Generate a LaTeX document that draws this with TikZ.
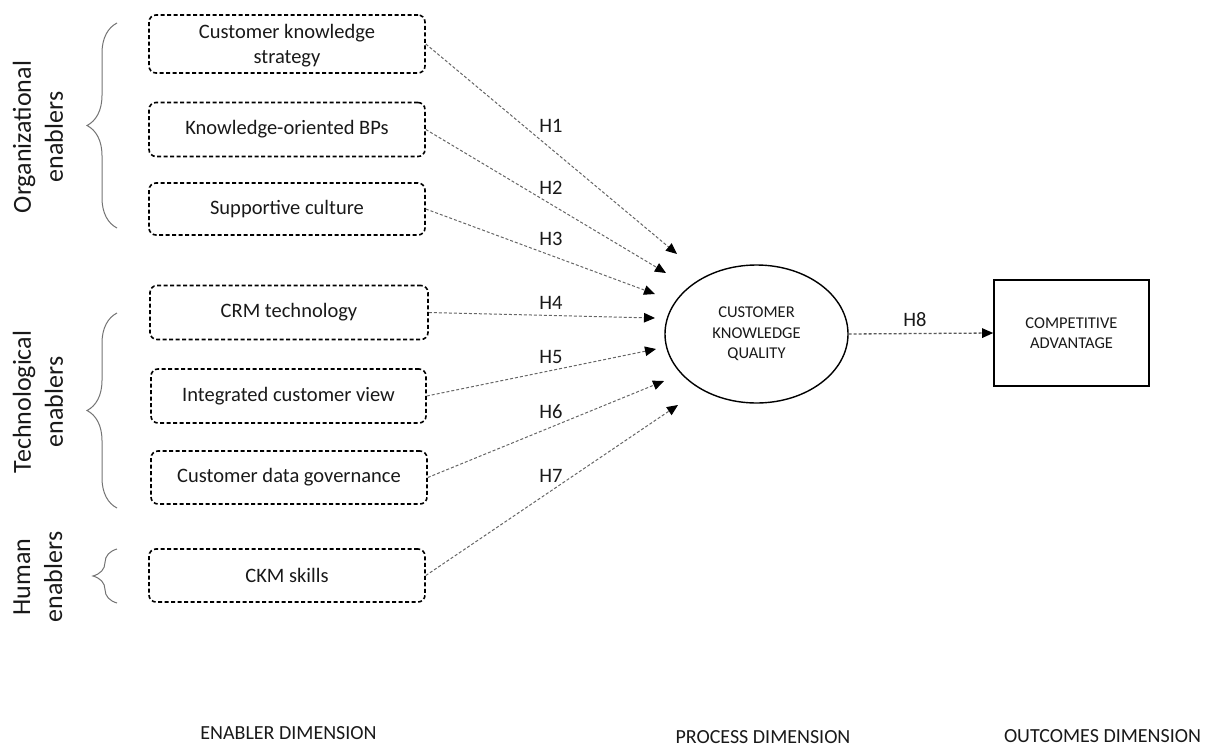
\documentclass[tikz,border=0pt]{standalone}
\usepackage{fontspec}
\setmainfont{Carlito}
\usetikzlibrary{arrows.meta,shapes.geometric,decorations.pathreplacing}
\begin{document}
\begin{tikzpicture}[x=1pt,y=-1pt,
  enabler/.style={draw=black, line width=1.6pt, dash pattern=on 4pt off 2.5pt,
    rounded corners=7pt, minimum width=276pt, minimum height=54pt, align=center,
    inner sep=0pt, font=\fontsize{20.5}{25}\selectfont, text=black!90},
  hyp/.style={draw=black!60, line width=1pt, dash pattern=on 3pt off 2pt,
    -{Triangle[length=11pt,width=9.5pt,color=black]}},
  hlabel/.style={inner sep=0pt, font=\fontsize{20.5}{24}\selectfont, text=black!90},
  group/.style={draw=black!55, line width=1pt, decorate,
    decoration={brace, amplitude=30pt}},
  grouplabel/.style={rotate=90, align=center, inner sep=0pt,
    font=\fontsize{26}{32}\selectfont, text=black!90},
  dimlabel/.style={inner sep=0pt, font=\fontsize{20}{24}\selectfont, text=black!90},
]
\useasboundingbox (0,0) rectangle (1209,747);

% enabler boxes
\node[enabler, minimum height=58pt, text depth=0pt] (b1) at (287,44) {Customer knowledge\\strategy};
\node[enabler] (b2) at (287,129.5) {Knowledge-oriented BPs};
\node[enabler, minimum height=52pt] (b3) at (287,209) {Supportive culture};
\node[enabler, minimum width=278pt] (b4) at (289,312.5) {CRM technology};
\node[enabler, minimum width=275pt] (b5) at (288.5,396) {Integrated customer view};
\node[enabler, minimum height=53pt] (b6) at (289,477.5) {Customer data governance};
\node[enabler, minimum height=53pt] (b7) at (287,575.5) {CKM skills};

% group braces and their labels
\draw[group] (117,228) -- (117,23);
\draw[group] (117,508) -- (117,313);
\draw[group, decoration={brace, amplitude=24pt}] (117,603) -- (117,549);
\node[grouplabel] (g1) at (38,137) {Organizational\\enablers};
\node[grouplabel] (g2) at (38,402) {Technological\\enablers};
\node[grouplabel] (g3) at (38,577) {Human\\enablers};

% process and outcome constructs
\node[ellipse, draw=black, line width=1.4pt, minimum width=183pt, minimum height=138pt,
  inner sep=0pt, align=center, font=\fontsize{16.5}{20.5}\selectfont, text=black!90]
  (ckq) at (756.5,334) {CUSTOMER\\KNOWLEDGE\\QUALITY};
\node[draw=black, line width=1.6pt, minimum width=155pt, minimum height=106pt,
  inner sep=0pt, align=center, font=\fontsize{16.5}{20.5}\selectfont, text=black!90]
  (ca) at (1071.5,333) {COMPETITIVE\\ADVANTAGE};

% arrow tips in front of the ellipse
\coordinate (t1) at (677,254);
\coordinate (t2) at (666,273);
\coordinate (t3) at (655,294);
\coordinate (t4) at (655,318);
\coordinate (t5) at (656,349);
\coordinate (t6) at (664,381);
\coordinate (t7) at (678,405);

% hypotheses
\draw[hyp] (b1.east) -- (t1);
\draw[hyp] (b2.east) -- (t2);
\draw[hyp] (b3.east) -- (t3);
\draw[hyp] (b4.east) -- (t4);
\draw[hyp] (b5.east) -- (t5);
\draw[hyp] (b6.east) -- (t6);
\draw[hyp] (b7.east) -- (t7);
\draw[hyp, draw=black!65, line width=1.3pt] (ckq.east) -- (ca.west);

\node[hlabel] (h1) at (551,126) {H1};
\node[hlabel] (h2) at (551,188) {H2};
\node[hlabel] (h3) at (551,239) {H3};
\node[hlabel] (h4) at (551,303) {H4};
\node[hlabel] (h5) at (551,357) {H5};
\node[hlabel] (h6) at (551,412) {H6};
\node[hlabel] (h7) at (551,476) {H7};
\node[hlabel] (h8) at (915,320) {H8};

% dimension captions
\node[dimlabel] (d1) at (288.5,733) {ENABLER DIMENSION};
\node[dimlabel] (d2) at (763,737) {PROCESS DIMENSION};
\node[dimlabel] (d3) at (1102.5,736) {OUTCOMES DIMENSION};
\end{tikzpicture}
\end{document}
